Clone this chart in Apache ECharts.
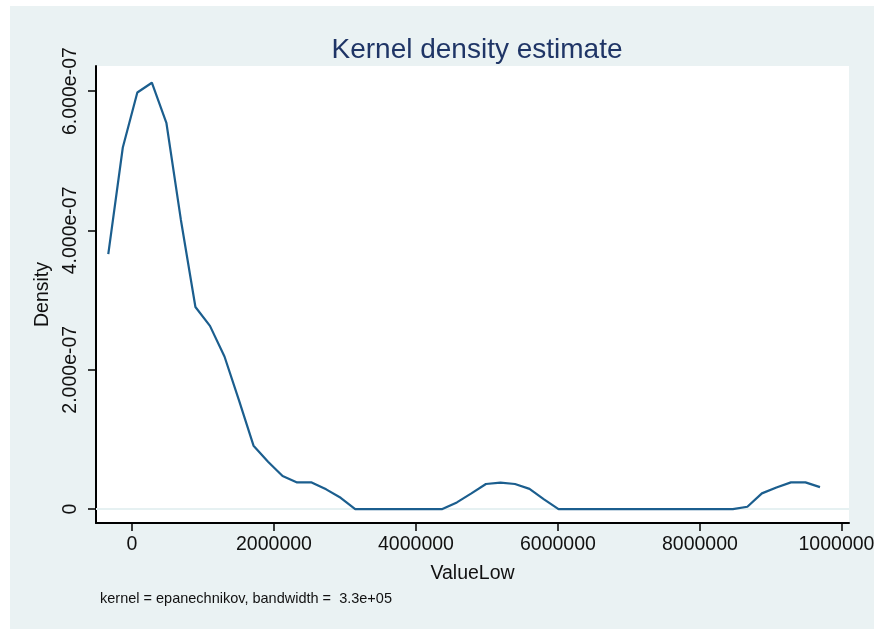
<!DOCTYPE html>
<html><head><meta charset="utf-8">
<script src="https://cdn.jsdelivr.net/npm/echarts@6/dist/echarts.min.js"></script>
<style>html,body{margin:0;padding:0;background:#fff;}#c{position:absolute;left:10px;top:6px;width:864px;height:623px;}</style>
</head><body><div id="c"></div>
<script>
// Evaluation points (ValueLow)
const xValues = [-334000,-129400,75200,279800,484400,689000,893600,1098200,1302800,1507400,
  1712000,1916600,2121200,2325800,2530400,2735000,2939600,3144200,3348800,3553400,
  3758000,3962600,4167200,4371800,4576400,4781000,4985600,5190200,5394800,5599400,
  5804000,6008600,6213200,6417800,6622400,6827000,7031600,7236200,7440800,7645400,
  7850000,8054600,8259200,8463800,8668400,8873000,9077600,9282200,9486800,9691400];
// Density estimates
const densityValues = [3.66e-7,5.19e-7,5.98e-7,6.12e-7,5.545e-7,4.15e-7,2.90e-7,2.63e-7,2.19e-7,1.56e-7,
  0.91e-7,0.68e-7,0.474e-7,0.383e-7,0.383e-7,0.283e-7,0.162e-7,0,0,0,
  0,0,0,0,0.096e-7,0.225e-7,0.36e-7,0.38e-7,0.36e-7,0.29e-7,
  0.14e-7,0,0,0,0,0,0,0,0,0,
  0,0,0,0,0.033e-7,0.225e-7,0.31e-7,0.383e-7,0.383e-7,0.315e-7];
const xTicks = [0,2000000,4000000,6000000,8000000,10000000];
const yTicks = [0,2e-7,4e-7,6e-7];
const titleText = 'Kernel density estimate';
const noteText = 'kernel = epanechnikov, bandwidth =  3.3e+05';

const FONT = "'Liberation Sans', Arial, Helvetica, sans-serif";
function fmtY(v){
  if (v === 0) return '0';
  const s = v.toExponential(3);
  return s.replace(/e([+-])(\d)$/, 'e$10$2');
}
const chart = echarts.init(document.getElementById('c'), null, {renderer:'canvas'});
chart.setOption({
  backgroundColor: '#EAF2F3',
  animation: false,
  title: [
    {text: titleText, left: 462, top: 25, textAlign: 'center',
     textStyle: {fontFamily: FONT, fontWeight: 'normal', fontSize: 28, color: '#1F3566'}},
    {text: noteText, left: 90, top: 585, padding: 0,
     textStyle: {fontFamily: FONT, fontWeight: 'normal', fontSize: 14.5, color: '#111'}}
  ],
  grid: {left: 86, right: 25, top: 60, bottom: 106, show: true, backgroundColor: '#fff', borderWidth: 0,
    containLabel: false, outerBoundsMode: 'none'},
  xAxis: {
    type: 'value', min: -507000, max: 10100000,
    name: 'ValueLow', nameLocation: 'middle', nameGap: 41,
    nameTextStyle: {fontFamily: FONT, fontSize: 19.5, color: '#111'},
    axisLine: {show: true, onZero: false, lineStyle: {color: '#000', width: 2}},
    axisTick: {show: true, length: 8, lineStyle: {color: '#000', width: 1.5}, customValues: xTicks},
    axisLabel: {customValues: xTicks, margin: 12, fontFamily: FONT, fontSize: 19.5, color: '#111',
      formatter: v => String(v)},
    splitLine: {show: false}
  },
  yAxis: {
    type: 'value', min: -0.2e-7, max: 6.36e-7,
    name: 'Density', nameLocation: 'middle', nameGap: 37, nameRotate: 90,
    nameTextStyle: {fontFamily: FONT, fontSize: 19.5, color: '#111'},
    axisLine: {show: true, onZero: false, lineStyle: {color: '#000', width: 2}},
    axisTick: {show: true, length: 8, lineStyle: {color: '#000', width: 1.5}, customValues: yTicks},
    axisLabel: {customValues: yTicks, rotate: 90, margin: 15, fontFamily: FONT, fontSize: 19.5, color: '#111',
      formatter: fmtY},
    splitLine: {show: false}
  },
  series: [
    {
      type: 'line', data: [], z: 1,
      markLine: {
        silent: true, symbol: 'none', z: 1,
        label: {show: false},
        lineStyle: {color: '#E6F0F2', width: 1.5, type: 'solid'},
        emphasis: {disabled: true},
        data: yTicks.map(t => ({yAxis: t}))
      }
    },
    {
      type: 'line', z: 3,
      data: xValues.map((x, i) => [x, densityValues[i]]),
      showSymbol: false, smooth: false,
      lineStyle: {color: '#1B5E8E', width: 2.2},
      emphasis: {disabled: true}
    }
  ]
});
</script></body></html>
